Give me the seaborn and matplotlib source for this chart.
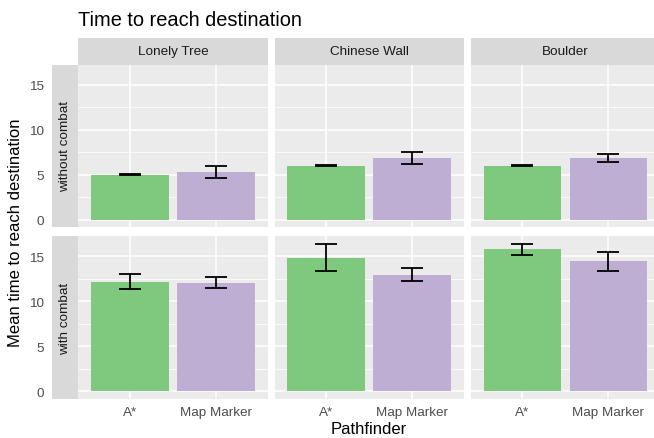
import matplotlib
matplotlib.use("Agg")
import matplotlib.pyplot as plt
from matplotlib.patches import Rectangle
from matplotlib.ticker import MultipleLocator
import seaborn as sns
import pandas as pd

maps = ["Lonely Tree", "Chinese Wall", "Boulder"]
conditions = ["without combat", "with combat"]
pathfinders = ["A*", "Map Marker"]
colors = ["#7FC97F", "#BEAED4"]

# mean time and half width of the error bar, per map, [A*, Map Marker]
mean_without = [[5.0, 5.28], [6.0, 6.82], [6.0, 6.82]]
err_without = [[0.05, 0.67], [0.04, 0.65], [0.04, 0.43]]
mean_with = [[12.2, 12.1], [14.87, 12.99], [15.78, 14.47]]
err_with = [[0.83, 0.57], [1.53, 0.68], [0.63, 1.08]]

rows = []
for cond, means, errs in [(conditions[0], mean_without, err_without),
                          (conditions[1], mean_with, err_with)]:
    for m, mvals, evals in zip(maps, means, errs):
        for p, v, e in zip(pathfinders, mvals, evals):
            rows.append({"condition": cond, "track": m, "Pathfinder": p, "time": v, "err": e})
df = pd.DataFrame(rows)

sns.set_style("darkgrid")
plt.rcParams["font.family"] = ["Liberation Sans", "DejaVu Sans"]

W, H = 654, 439
fig, axes = plt.subplots(2, 3, figsize=(W / 100, H / 100), dpi=100, sharey=True)
fig.patch.set_facecolor("white")
fig.subplots_adjust(left=78.3 / W, right=660 / W, top=1 - 65.7 / H, bottom=1 - 399.7 / H,
                    wspace=7 / 189, hspace=9.4 / 162.3)

ymax = (df["time"] + df["err"]).max()
pad = 0.05 * ymax
strip_w = 26.5 / 189
strip_h = 26.5 / 162.3

for i, cond in enumerate(conditions):
    for j, m in enumerate(maps):
        ax = axes[i, j]
        sub = df[(df["condition"] == cond) & (df["track"] == m)]
        sns.barplot(data=sub, x="Pathfinder", y="time", hue="Pathfinder",
                    order=pathfinders, hue_order=pathfinders, palette=colors,
                    saturation=1, width=0.9, errorbar=None, legend=False,
                    linewidth=0, ax=ax)
        ax.errorbar(x=range(len(sub)), y=sub["time"], yerr=sub["err"], fmt="none",
                    ecolor="black", elinewidth=1.3, capsize=7.8, capthick=1.3, zorder=3)

        ax.set_facecolor("#EBEBEB")
        for s in ax.spines.values():
            s.set_visible(False)
        ax.set_xlim(-0.6, 1.6)
        ax.set_ylim(-pad, ymax + pad)
        ax.yaxis.set_major_locator(MultipleLocator(5))
        ax.yaxis.set_minor_locator(MultipleLocator(2.5))
        ax.set_axisbelow(True)
        ax.grid(False)
        ax.yaxis.grid(True, which="major", color="white", linewidth=1.1)
        ax.yaxis.grid(True, which="minor", color="white", linewidth=0.55)
        ax.xaxis.grid(True, which="major", color="white", linewidth=1.1)
        ax.set_xlabel("")
        ax.set_ylabel("")
        ax.tick_params(which="major", color="#333333", length=2.9, width=0.8,
                       labelsize=9.7, labelcolor="#4D4D4D", pad=2.5)
        ax.tick_params(which="minor", length=0)

        if j > 0:
            ax.tick_params(axis="y", left=False, labelleft=False)
        else:
            ax.spines["left"].set_position(("outward", 26.5 * 0.72))
            ax.add_patch(Rectangle((-strip_w, 0), strip_w, 1, transform=ax.transAxes,
                                   clip_on=False, facecolor="#D9D9D9", edgecolor="none"))
            ax.text(-strip_w / 2, 0.5, cond, transform=ax.transAxes, rotation=90,
                    ha="center", va="center", fontsize=9.7, color="#1A1A1A")
        if i == 0:
            ax.tick_params(axis="x", bottom=False, labelbottom=False)
            ax.add_patch(Rectangle((0, 1), 1, strip_h, transform=ax.transAxes,
                                   clip_on=False, facecolor="#D9D9D9", edgecolor="none"))
            ax.text(0.5, 1 + strip_h / 2, m, transform=ax.transAxes,
                    ha="center", va="center", fontsize=9.7, color="#1A1A1A")

fig.text(78.3 / W, 1 - 26 / H, "Time to reach destination", fontsize=14.4,
         ha="left", va="baseline", color="black")
fig.text(16 / W, 1 - 232.7 / H, "Mean time to reach destination", fontsize=12,
         rotation=90, ha="center", va="center", color="black")
fig.text(369 / W, 1 - 430 / H, "Pathfinder", fontsize=12,
         ha="center", va="center", color="black")

fig.savefig("out.png", dpi=100)
